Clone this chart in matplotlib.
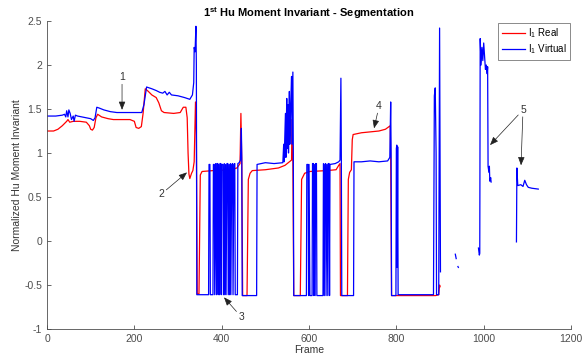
import numpy as np
import matplotlib
matplotlib.use("Agg")
import matplotlib.pyplot as plt

plt.rcParams["font.family"] = ["Liberation Sans", "DejaVu Sans"]
plt.rcParams["mathtext.fontset"] = "custom"
plt.rcParams["mathtext.rm"] = "Liberation Sans"
plt.rcParams["mathtext.it"] = "Liberation Sans:italic"
plt.rcParams["mathtext.bf"] = "Liberation Sans:bold"

nan = np.nan

# I1 Real (red)
real_frames = [0, 15, 25, 35, 45, 48, 52, 60, 75, 90, 97, 100, 104, 108, 112, 116, 125, 140, 152,
               190, 200, 204, 210, 216, 220, 225, 232, 240, 250, 256, 262, 268, 290, 305, 312, 318,
               321, 323, 325, 327, 331, 334, 337, 340, 342, 344, 348,
               351, 355, 380, 420, 435, 442, 444, 446, 448, 458,
               461, 465, 470, 500, 530, 545, 555, 560, 561, 563, 565, 580,
               583, 590, 602, 640, 662, 668, 671, 672, 688,
               690, 693, 697, 699, 701, 720, 740, 760, 775, 786, 787, 789, 890, 897, 899, 900]
real_values = [1.25, 1.25, 1.27, 1.31, 1.36, 1.38, 1.35, 1.36, 1.36, 1.35, 1.31, 1.27, 1.26, 1.29, 1.40, 1.44, 1.41, 1.39, 1.38,
               1.38, 1.36, 1.29, 1.28, 1.30, 1.45, 1.73, 1.70, 1.66, 1.63, 1.57, 1.48, 1.46, 1.45, 1.46, 1.52, 1.52,
               1.40, 1.00, 0.76, 0.71, 0.77, 0.80, 0.90, 1.58, 1.20, -0.60, -0.60,
               0.75, 0.79, 0.80, 0.81, 0.83, 0.88, 1.45, 0.90, -0.62, -0.62,
               0.70, 0.77, 0.80, 0.81, 0.83, 0.86, 0.90, 0.92, 1.38, 0.90, -0.62, -0.62,
               0.70, 0.77, 0.79, 0.80, 0.81, 0.86, 0.88, -0.62, -0.62,
               0.70, 0.78, 0.81, 1.15, 1.21, 1.23, 1.24, 1.25, 1.27, 1.31, 0.92, -0.62, -0.62, -0.61, -0.50, -0.52]

# I1 Virtual (blue), nan = missing frames
virtual_frames = [0, 20, 35, 40, 43, 45, 48, 50, 53, 56, 60, 62, 65, 70, 80, 90, 100, 106, 110,
                  114, 120, 130, 145, 160, 200, 217, 222, 228, 240, 250, 258, 265, 270, 275, 280, 285,
                  300, 315, 327, 333, 336, 337, 339, 341, 342, 343,
                  370, 371, 373, 374, 380, 381, 383, 384, 386, 388, 389, 391, 392, 393, 395, 396, 398,
                  399, 400, 403, 404, 406, 407, 409, 410, 412, 414, 415, 417, 418, 420, 421, 423, 425,
                  426, 428, 430, 431, 436, 437, 440, 443, 445, 446, 447,
                  480, 481, 490, 500, 520, 540, 542, 543, 546, 547, 549, 550, 552, 553, 555, 556,
                  558, 560, 561, 563, 564, 565,
                  594, 595, 598, 599, 600, 602, 607, 608, 610, 611, 612, 614, 615, 617, 618,
                  632, 633, 635, 636, 638, 639, 641, 643, 644, 646, 647, 648, 660, 668, 671, 673, 674, 675,
                  702, 703, 720, 740, 760, 780, 785, 787, 788, 789, 799, 800, 801, 802, 803, 804,
                  885, 887, 889, 891, 892, 897, 899, 900, 901, nan,
                  935, 937, nan, 941, 942, nan,
                  988, 990, 991, 992, 994, 996, 998, 1000, 1002, 1004, 1006, 1008, 1009, 1010,
                  1012, 1013, 1014, 1016, 1017, nan,
                  1075, 1076, 1078, 1085, 1090, 1094, 1098, 1102, 1110, 1125]
virtual_values = [1.42, 1.42, 1.43, 1.44, 1.41, 1.48, 1.41, 1.49, 1.45, 1.38, 1.42, 1.36, 1.43, 1.42, 1.41, 1.40, 1.39, 1.37, 1.40,
                  1.52, 1.51, 1.49, 1.47, 1.46, 1.46, 1.46, 1.55, 1.75, 1.73, 1.71, 1.69, 1.68, 1.70, 1.66, 1.69, 1.66,
                  1.65, 1.63, 1.61, 1.66, 1.80, 2.20, 2.15, 2.44, 2.00, -0.61,
                  -0.61, 0.87, 0.87, -0.61, -0.61, 0.87, 0.87, -0.61, 0.88, -0.61, 0.88, 0.88, -0.61, 0.87, -0.61, 0.88, 0.88,
                  -0.61, 0.87, 0.87, -0.61, 0.88, -0.61, 0.87, -0.61, 0.88, 0.88, -0.61, 0.87, -0.61, 0.88, -0.61, 0.87, 0.88,
                  -0.61, 0.87, 0.88, -0.61, -0.61, 0.88, 0.89, 0.92, 1.28, 0.95, -0.62,
                  -0.62, 0.87, 0.88, 0.89, 0.88, 0.89, 1.10, 0.90, 1.45, 0.95, 1.62, 1.05, 1.55, 1.00, 1.70, 1.10,
                  1.55, 1.87, 1.10, 1.92, 1.00, -0.62,
                  -0.62, 0.87, 0.87, -0.62, 0.87, -0.62, -0.62, 0.88, 0.88, -0.62, 0.87, -0.62, 0.88, 0.88, -0.62,
                  -0.62, 0.88, -0.62, 0.87, 0.88, -0.62, 0.87, -0.62, 0.88, 0.88, -0.62, 0.87, 0.88, 0.90, 0.92, 1.85, 0.95, -0.62,
                  -0.62, 0.90, 0.90, 0.91, 0.90, 0.91, 0.95, 1.58, 1.00, -0.62, -0.62, 1.05, 1.09, -0.30, 1.07, -0.61,
                  -0.61, 1.65, 1.74, 1.00, -0.61, -0.61, 2.42, 1.00, -0.35, nan,
                  -0.15, -0.20, nan, -0.29, -0.30, nan,
                  -0.08, -0.16, -0.14, 2.30, 2.00, 2.20, 2.05, 2.25, 2.10, 1.95, 2.00, 1.90, 1.98, 0.85,
                  0.78, 0.85, 0.68, 0.72, 0.67, nan,
                  -0.01, 0.83, 0.63, 0.64, 0.62, 0.69, 0.64, 0.61, 0.60, 0.59]

x_ticks = [0, 200, 400, 600, 800, 1000, 1200]
y_ticks = [-1, -0.5, 0, 0.5, 1, 1.5, 2, 2.5]
y_tick_labels = ["-1", "-0.5", "0", "0.5", "1", "1.5", "2", "2.5"]

# numbered callouts: label, text position, arrow tip(s)
callouts = [
    ("1", (171.8, 1.86), [(171.8, 1.49)]),
    ("2", (261.0, 0.53), [(320.6, 0.78)]),
    ("3", (444.3, -0.86), [(405.3, -0.64)]),
    ("4", (760.3, 1.53), [(748.9, 1.28)]),
    ("5", (1090.0, 1.49), [(1014.5, 1.09), (1085.5, 0.86)]),
]

fig = plt.figure(figsize=(5.87, 3.56), dpi=100)
ax = fig.add_axes([0.0801, 0.0758, 0.8927, 0.8652])

ax.plot(real_frames, real_values, color="red", lw=0.9, label=r"I$_1$ Real")
ax.plot(virtual_frames, virtual_values, color="blue", lw=0.9, label=r"I$_1$ Virtual")

ax.set_xlim(0, 1200)
ax.set_ylim(-1, 2.5)
ax.set_xticks(x_ticks)
ax.set_yticks(y_ticks)
ax.set_yticklabels(y_tick_labels)

gray = "#4d4d4d"
for side in ["top", "right"]:
    ax.spines[side].set_visible(False)
for side in ["left", "bottom"]:
    ax.spines[side].set_color(gray)
    ax.spines[side].set_linewidth(0.6)
ax.tick_params(direction="in", length=3, width=0.6, colors=gray, labelsize=7.5)

ax.set_xlabel("Frame", fontsize=7.5, color="#333333", labelpad=0.5)
ax.set_ylabel("Normalized Hu Moment Invariant", fontsize=7.5, color="#333333", labelpad=2)
ax.set_title(r"1$^{\mathbf{st}}$ Hu Moment Invariant - Segmentation", fontsize=8,
             fontweight="bold", pad=2.5)

leg = ax.legend(loc="upper right", bbox_to_anchor=(0.998, 0.995), fontsize=7,
                fancybox=False, handlelength=2.4, borderpad=0.35, labelspacing=0.3,
                handletextpad=0.3, borderaxespad=0)
leg.get_frame().set_edgecolor("#555555")
leg.get_frame().set_linewidth(0.6)

for label, text_xy, tips in callouts:
    ax.text(text_xy[0], text_xy[1], label, fontsize=7.5, color="#333333",
            ha="center", va="center")
    for tip in tips:
        ax.annotate("", xy=tip, xytext=text_xy,
                    arrowprops=dict(arrowstyle="-|>,head_length=0.5,head_width=0.2",
                                    color="#222222", lw=0.5, shrinkA=5, shrinkB=0))

fig.savefig("out.png", dpi=100)
